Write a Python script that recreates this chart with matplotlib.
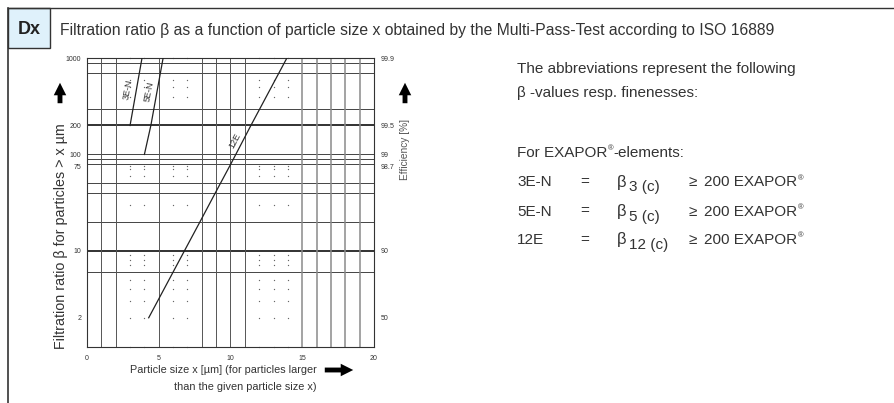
import matplotlib
matplotlib.use("Agg")
import matplotlib.pyplot as plt
from matplotlib.patches import Rectangle, FancyArrowPatch
from matplotlib.lines import Line2D

FONT = ['Liberation Sans', 'DejaVu Sans']
plt.rcParams['font.family'] = FONT

# ---------------- data ----------------
x_3EN = [3.0, 3.83]
y_3EN = [200, 1000]
x_5EN = [4.0, 4.45, 5.3]
y_5EN = [100, 200, 1000]
x_12E = [4.3, 4.93, 6.8, 7.88, 8.95, 10.03, 11.42, 13.92]
y_12E = [2, 3, 10, 20, 40, 80, 200, 1000]

x_ticks = [0, 5, 10, 15, 20]
beta_ticks = [1000, 200, 100, 75, 10, 2]
eff_labels = ['99.9', '99.5', '99', '98.7', '90', '50']

h_lines = [900, 700, 300, 100, 90, 80, 50, 40, 20, 6]
h_lines_bold = [200, 10]
v_lines = [1, 2, 5, 8, 9, 10, 11]
v_lines_grey = [15, 16, 17, 18, 19]
dot_x = [3, 4, 6, 7, 12, 13, 14]
dot_y = [1000, 600, 500, 400, 75, 70, 60, 30, 9, 8, 7, 5, 4, 3, 2, 1]

W, H = 895, 403
fig = plt.figure(figsize=(W / 100, H / 100), dpi=100)
renderer = fig.canvas.get_renderer()

def fx(x):
    return x / W

def fy(y):
    return 1 - y / H

TXT = '#333333'

# ---------------- frame / header ----------------
fig.add_artist(Line2D([fx(8), fx(895)], [fy(8), fy(8)], color='#333333', lw=1.0))
fig.add_artist(Line2D([fx(8), fx(8)], [fy(8), fy(403)], color='#333333', lw=1.2))
fig.add_artist(Rectangle((fx(8), fy(48)), fx(50) - fx(8), fy(8) - fy(48),
                         facecolor='#dff1fb', edgecolor='#333333', lw=1.0))
fig.text(fx(29), fy(29), 'Dx', ha='center', va='center', fontsize=13,
         fontweight='bold', color='#222222')
fig.text(fx(60), fy(30), 'Filtration ratio β as a function of particle size x obtained by the Multi-Pass-Test according to ISO 16889',
         ha='left', va='center', fontsize=11.3, color=TXT)

# ---------------- axes ----------------
ax = fig.add_axes([fx(87), fy(346.7), fx(374) - fx(87), fy(58.3) - fy(346.7)])
ax.set_yscale('log')
ax.set_xlim(0, 20)
ax.set_ylim(1, 1000)

for y in h_lines:
    ax.axhline(y, color='#444444', lw=0.7, zorder=1)
for y in h_lines_bold:
    ax.axhline(y, color='#222222', lw=1.3, zorder=1)
for x in v_lines:
    ax.axvline(x, color='#555555', lw=0.7, zorder=1)
for x in v_lines_grey:
    ax.axvline(x, color='#8a8a8a', lw=1.1, zorder=1)

dx = [x for x in dot_x for _ in dot_y]
dy = [y for _ in dot_x for y in dot_y]
ax.scatter(dx, dy, s=0.9, color='#666666', marker='o', linewidths=0, zorder=2, clip_on=False)

ax.plot(x_3EN, y_3EN, color='#222222', lw=0.9, zorder=3)
ax.plot(x_5EN, y_5EN, color='#222222', lw=0.9, zorder=3)
ax.plot(x_12E, y_12E, color='#222222', lw=0.9, zorder=3)

ax.text(2.85, 470, '3E-N', rotation=80, fontsize=6.5, ha='center', va='center', color=TXT)
ax.text(4.32, 450, '5E-N', rotation=79, fontsize=6.5, ha='center', va='center', color=TXT)
ax.text(10.3, 138, '12E', rotation=62, fontsize=6.5, ha='center', va='center', color=TXT)

for s in ax.spines.values():
    s.set_color('#333333')
    s.set_linewidth(0.8)

ax.set_xticks(x_ticks)
ax.set_xticklabels([str(v) for v in x_ticks])
ax.set_yticks(beta_ticks)
ax.set_yticklabels([str(v) for v in beta_ticks])
ax.minorticks_off()
ax.tick_params(axis='both', length=0, labelsize=5, colors=TXT, pad=4)
ax.tick_params(axis='x', pad=6)

ax2 = ax.twinx()
ax2.set_yscale('log')
ax2.set_ylim(1, 1000)
ax2.set_yticks(beta_ticks)
ax2.set_yticklabels(eff_labels)
ax2.minorticks_off()
ax2.tick_params(axis='y', length=0, labelsize=5, colors=TXT, pad=5)
for s in ax2.spines.values():
    s.set_visible(False)

# ---------------- axis titles & arrows ----------------
fig.text(fx(61), fy(236), 'Filtration ratio β for particles > x µm', rotation=90,
         ha='center', va='center', fontsize=10.3, color=TXT)
fig.text(fx(405), fy(149), 'Efficiency [%]', rotation=90, ha='center', va='center',
         fontsize=7.3, color='#555555')
fig.text(fx(317), fy(370), 'Particle size x [µm] (for particles larger', ha='right', va='center',
         fontsize=7.8, color=TXT)
fig.text(fx(317), fy(386.5), 'than the given particle size x)', ha='right', va='center',
         fontsize=7.8, color=TXT)

def arrow(x0, y0, x1, y1):
    a = FancyArrowPatch((fx(x0), fy(y0)), (fx(x1), fy(y1)), transform=fig.transFigure,
                        arrowstyle='simple,head_length=0.9,head_width=0.9,tail_width=0.35',
                        mutation_scale=10, color='black', lw=0)
    fig.add_artist(a)

arrow(60, 106, 60, 80)
arrow(405, 106, 405, 80)
arrow(322, 370, 356, 370)

# ---------------- legend text block ----------------
TS = 11

def text_reg(x, y, s, after=''):
    """Text followed by a small raised registered mark, then optional text."""
    t = fig.text(fx(x), fy(y), s, ha='left', va='center', fontsize=TS, color=TXT)
    bb = t.get_window_extent(renderer=renderer)
    x_end = bb.x1
    r = fig.text(x_end / W + 0.0005, fy(y - 4), '®', ha='left', va='center', fontsize=5.5, color=TXT)
    if after:
        rb = r.get_window_extent(renderer=renderer)
        fig.text(rb.x1 / W, fy(y), after, ha='left', va='center', fontsize=TS, color=TXT)

fig.text(fx(517), fy(69), 'The abbreviations represent the following', ha='left', va='center',
         fontsize=TS, color=TXT)
fig.text(fx(517), fy(93.5), 'β -values resp. finenesses:', ha='left', va='center',
         fontsize=TS, color=TXT)
text_reg(517, 152.5, 'For EXAPOR', '-elements:')

rows_abbr = ['3E-N', '5E-N', '12E']
rows_sub = ['3 (c)', '5 (c)', '12 (c)']
rows_y = [182.5, 211.5, 240]
for name, sub, y in zip(rows_abbr, rows_sub, rows_y):
    fig.text(fx(517), fy(y), name, ha='left', va='center', fontsize=TS, color=TXT)
    fig.text(fx(580), fy(y), '=', ha='left', va='center', fontsize=TS, color=TXT)
    fig.text(fx(617), fy(y), 'β', ha='left', va='center', fontsize=TS + 1, color=TXT)
    fig.text(fx(629), fy(y + 5), sub, ha='left', va='center', fontsize=TS, color=TXT)
    fig.text(fx(689), fy(y), '≥', ha='left', va='center', fontsize=TS, color=TXT)
    text_reg(704, y, '200 EXAPOR')

fig.savefig('out.png', dpi=100)
